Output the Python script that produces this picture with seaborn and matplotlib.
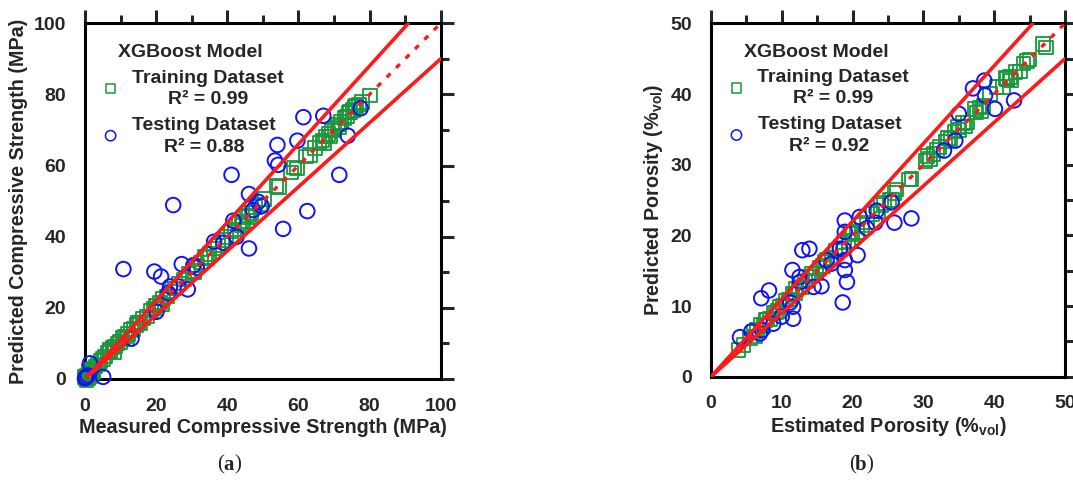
import numpy as np
import pandas as pd
import seaborn as sns
import matplotlib.pyplot as plt
from matplotlib.ticker import MultipleLocator

# ---- panel (a): compressive strength ----
train_a_x = [0.0, 0.3, 0.6, 0.9, 1.2, 1.5, 1.9, 2.4, 3.0, 3.7,
             4.4, 5.0, 5.7, 6.4, 7.1, 7.8, 8.5, 9.2, 9.9, 10.6,
             11.3, 12.1, 12.9, 13.7, 14.5, 15.4, 16.3, 17.4, 18.5, 19.4,
             20.2, 21.1, 22.0, 23.0, 24.1, 25.2, 26.5, 27.8, 29.1, 30.3,
             31.5, 32.6, 33.8, 35.0, 36.2, 37.4, 38.6, 39.8, 41.0, 42.1,
             43.3, 44.5, 45.6, 46.8, 48.0, 49.2, 50.5, 53.8, 54.6, 57.9,
             58.8, 59.6, 62.1, 63.2, 64.6, 65.9, 66.8, 67.6, 68.5, 69.4,
             70.2, 71.1, 72.0, 72.9, 73.7, 74.5, 75.3, 76.2, 77.0, 77.9,
             80.1, 0.4, 0.8, 1.1, 1.7, 2.1, 6.9, 8.1, 11.8, 14.9,
             19.8, 21.6, 30.8, 34.5, 44.0, 46.1, 67.2, 69.0, 71.6, 74.1,
             75.8]
train_a_y = [0.5, 0.1, 1.0, 0.4, 1.6, 0.8, 2.3, 2.0, 3.5, 4.1,
             5.0, 5.6, 6.3, 7.5, 7.8, 8.9, 9.1, 10.0, 10.4, 11.5,
             11.9, 12.6, 13.8, 14.0, 15.2, 15.8, 17.0, 17.6, 19.2, 19.8,
             20.7, 21.5, 22.6, 23.2, 24.6, 25.5, 26.9, 28.0, 29.6, 30.4,
             31.9, 32.8, 34.3, 35.2, 36.7, 37.5, 39.0, 39.9, 41.4, 42.0,
             43.7, 44.3, 45.9, 46.6, 48.4, 49.0, 50.6, 54.3, 53.9, 58.1,
             59.4, 59.2, 62.6, 63.0, 64.9, 66.5, 67.0, 68.2, 68.8, 69.9,
             70.3, 71.6, 72.2, 73.4, 73.8, 75.0, 75.6, 76.8, 77.2, 77.8,
             79.7, -0.3, 0.3, 2.2, 1.0, 3.0, 8.2, 7.6, 11.2, 15.9,
             20.6, 20.9, 30.0, 34.0, 43.2, 45.5, 66.4, 68.2, 70.8, 74.9,
             76.5]
test_a_x = [0, 0.3, 0.8, 1.4, 5.1, 10.8, 13.1, 19.5, 20.1, 21.4,
            23.4, 23.9, 24.8, 26.2, 27.2, 28.9, 30.5, 31.4, 36.3, 38.9,
            41.2, 41.7, 42.6, 46.1, 46.1, 47.3, 48.7, 49.7, 53.4, 54.1,
            54.3, 55.7, 59.7, 61.4, 62.5, 67.0, 71.5, 73.9, 77.5]
test_a_y = [0.2, 0.5, 1.0, 4.4, 0.6, 30.9, 11.4, 30.2, 18.9, 28.8,
            24.1, 26.0, 48.9, 26.0, 32.3, 25.2, 32.0, 31.3, 38.6, 38.3,
            57.4, 44.5, 40.0, 36.7, 52.0, 47.5, 49.8, 48.6, 61.4, 65.8,
            60.2, 42.2, 67.0, 73.6, 47.2, 74.0, 57.4, 68.4, 76.1]

# ---- panel (b): porosity ----
train_b_x = [3.9, 4.6, 5.5, 6.0, 6.5, 7.0, 7.4, 7.9, 8.3, 8.8,
             9.2, 9.7, 10.1, 10.6, 11.0, 11.5, 11.9, 12.4, 12.9, 13.3,
             13.8, 14.3, 14.8, 15.3, 15.8, 16.4, 17.0, 17.6, 18.2, 18.8,
             19.4, 20.0, 20.6, 21.3, 22.0, 22.8, 23.6, 24.4, 25.2, 25.9,
             28.0, 30.3, 30.9, 31.4, 32.3, 33.1, 33.8, 34.4, 35.0, 35.6,
             36.2, 37.5, 37.9, 38.5, 39.4, 40.3, 41.2, 41.8, 42.2, 43.0,
             44.1, 44.6, 46.9, 47.3, 6.2, 7.7, 9.5, 12.0, 14.0, 16.0,
             19.7, 24.0, 25.6, 26.2, 28.3, 30.6, 31.9, 33.5, 34.9, 35.9,
             37.3, 38.2, 41.6, 42.4, 43.6, 45.0]
train_b_y = [3.8, 4.5, 5.4, 6.3, 6.6, 7.3, 7.2, 8.1, 8.2, 9.0,
             9.1, 9.9, 10.0, 10.8, 10.9, 11.7, 11.8, 12.6, 12.7, 13.5,
             13.6, 14.5, 14.6, 15.4, 15.7, 16.6, 16.8, 17.8, 18.0, 19.0,
             19.2, 20.2, 20.4, 21.5, 21.8, 23.0, 23.4, 24.6, 25.0, 26.0,
             27.9, 30.5, 30.8, 31.5, 32.5, 33.3, 33.6, 34.7, 34.9, 35.9,
             36.0, 37.4, 38.1, 38.3, 40.0, 41.0, 41.0, 42.1, 42.4, 43.1,
             44.3, 44.7, 47.1, 46.6, 5.7, 8.0, 9.3, 12.4, 14.2, 16.3,
             20.5, 24.3, 25.0, 26.5, 28.0, 31.2, 32.1, 33.8, 35.3, 35.4,
             37.9, 37.6, 42.3, 41.9, 43.2, 44.9]
test_b_x = [4.1, 5.7, 6.9, 7.2, 7.1, 8.2, 8.8, 10.0, 11.6, 11.5,
            11.6, 11.2, 12.6, 12.5, 12.9, 13.9, 14.5, 15.6, 16.3, 17.0,
            18.2, 18.7, 18.9, 18.9, 18.9, 18.9, 19.2, 18.6, 20.7, 21.0,
            22.0, 23.2, 23.4, 25.5, 25.9, 28.3, 32.9, 34.5, 35.0, 37.0,
            38.6, 38.7, 40.1, 42.8]
test_b_y = [5.6, 6.4, 6.1, 6.6, 11.1, 12.2, 7.5, 8.5, 8.2, 15.1,
            9.9, 10.5, 13.4, 14.1, 17.9, 18.1, 12.7, 12.8, 16.5, 16.0,
            18.1, 18.1, 22.1, 20.5, 16.5, 15.1, 13.4, 10.5, 17.2, 22.6,
            21.0, 21.8, 23.5, 24.7, 21.8, 22.4, 32.0, 33.4, 37.2, 40.8,
            41.9, 39.8, 37.9, 39.1]

r2_a = ["0.99", "0.88"]
r2_b = ["0.99", "0.92"]

GREEN = "#17983a"
BLUE = "#1212f5"
RED = "#ff1a1a"

sns.set_style("white")
plt.rcParams["font.family"] = ["Liberation Sans", "DejaVu Sans"]
plt.rcParams["font.weight"] = "bold"
plt.rcParams["mathtext.fontset"] = "custom"
plt.rcParams["mathtext.rm"] = "Liberation Sans"
plt.rcParams["mathtext.bf"] = "Liberation Sans:bold"

fig = plt.figure(figsize=(10.73, 4.82), dpi=100)
ax_a = fig.add_axes([0.0792, 0.2137, 0.3315, 0.738])
ax_b = fig.add_axes([0.6626, 0.2185, 0.3300, 0.733])


def panel(ax, tx, ty, sx, sy, lim, major, minor, r2, xlabel, ylabel):
    train = pd.DataFrame({"x": tx, "y": ty})
    test = pd.DataFrame({"x": sx, "y": sy})
    sns.scatterplot(data=train, x="x", y="y", ax=ax, marker="s", s=95,
                    facecolors="none", edgecolor=GREEN, linewidth=1.3,
                    clip_on=False, zorder=3)
    sns.scatterplot(data=test, x="x", y="y", ax=ax, marker="o", s=110,
                    facecolors="none", edgecolor=BLUE, linewidth=1.4,
                    clip_on=False, zorder=4)
    xs = np.array([0, lim])
    ax.plot([0, lim / 1.1], [0, lim], color=RED, lw=2.6, zorder=5)
    ax.plot(xs, 0.9 * xs, color=RED, lw=2.6, zorder=5)
    ax.plot(xs, xs, color=RED, lw=2.4, dashes=(1.6, 2.4), zorder=5)

    ax.set_xlim(0, lim)
    ax.set_ylim(0, lim)
    ax.xaxis.set_major_locator(MultipleLocator(major))
    ax.yaxis.set_major_locator(MultipleLocator(major))
    ax.xaxis.set_minor_locator(MultipleLocator(minor))
    ax.yaxis.set_minor_locator(MultipleLocator(minor))
    ax.tick_params(which="both", direction="out", top=True, right=True,
                   labelsize=14, width=2.2, pad=4)
    ax.tick_params(which="major", length=9.5)
    ax.tick_params(which="minor", length=5.5)
    for sp in ax.spines.values():
        sp.set_linewidth(2.2)
        sp.set_color("black")
    ax.set_xlabel(xlabel, fontsize=14.2, fontweight="bold", labelpad=2)
    ax.set_ylabel(ylabel, fontsize=14.2, fontweight="bold", labelpad=4)

    tr = ax.transAxes
    kw = dict(transform=tr, ha="center", va="center", fontsize=14,
              fontweight="bold")
    ax.text(0.297, 0.917, "XGBoost Model", **kw)
    ax.text(0.345, 0.846, "Training Dataset", **kw)
    ax.text(0.345, 0.786, "R\u00b2 = " + r2[0], **kw)
    ax.text(0.335, 0.713, "Testing Dataset", **kw)
    ax.text(0.335, 0.651, "R\u00b2 = " + r2[1], **kw)
    ax.scatter([0.072], [0.817], transform=tr, marker="s", s=48,
               facecolors="none", edgecolors=GREEN, linewidths=1.1, clip_on=False)
    ax.scatter([0.072], [0.684], transform=tr, marker="o", s=55,
               facecolors="none", edgecolors=BLUE, linewidths=1.1, clip_on=False)


panel(ax_a, train_a_x, train_a_y, test_a_x, test_a_y, 100, 20, 10, r2_a,
      "Measured Compressive Strength (MPa)",
      "Predicted Compressive Strength (MPa)")
panel(ax_b, train_b_x, train_b_y, test_b_x, test_b_y, 50, 10, 5, r2_b,
      r"Estimated Porosity (%$_{\mathbf{vol}}$)",
      r"Predicted Porosity (%$_{\mathbf{vol}}$)")


def caption(xc, letter):
    y = 1 - 465 / 482
    kw = dict(fontsize=15, va="center", family="Liberation Serif")
    fig.text(xc / 1073, y, letter, ha="center", fontweight="bold", **kw)
    fig.text((xc - 5.5) / 1073, y, "(", ha="right", fontweight="normal", **kw)
    fig.text((xc + 5.5) / 1073, y, ")", ha="left", fontweight="normal", **kw)


caption(229, "a")
caption(861, "b")

fig.savefig("out.png", dpi=100)
